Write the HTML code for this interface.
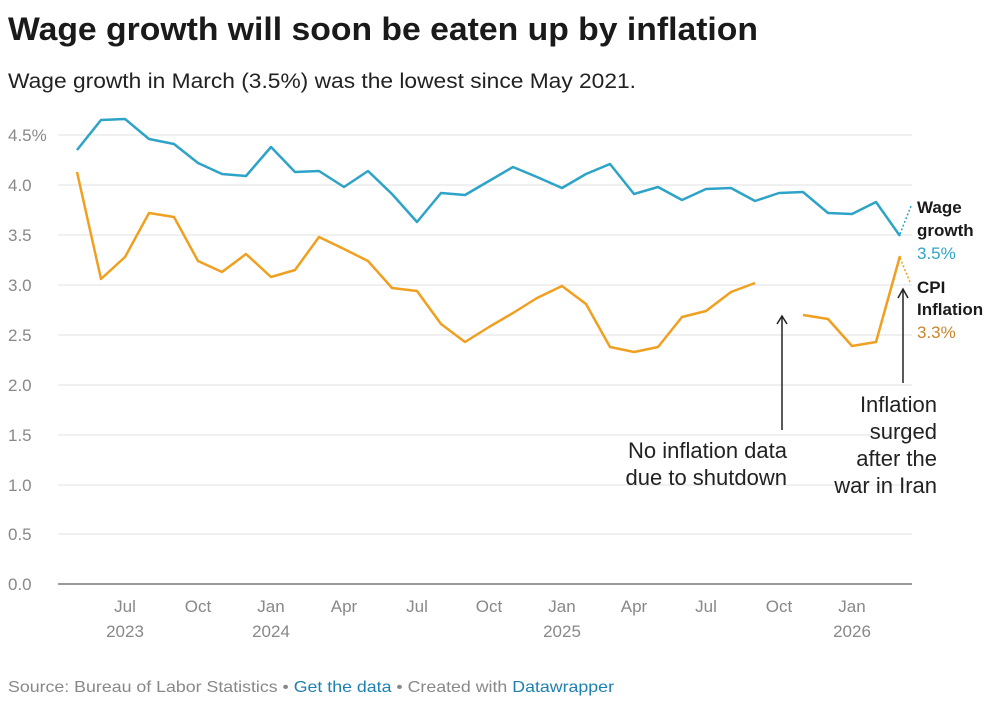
<!DOCTYPE html>
<html><head><meta charset="utf-8"><style>
body{margin:0;background:#fff;width:1000px;height:711px;overflow:hidden;font-family:"Liberation Sans",Arial,sans-serif}
</style></head><body>
<svg width="1000" height="711" viewBox="0 0 1000 711" xmlns="http://www.w3.org/2000/svg" font-family="Liberation Sans, Arial, sans-serif">
<text x="8" y="40" font-size="32" font-weight="bold" fill="#1a1a1a" textLength="750" lengthAdjust="spacingAndGlyphs">Wage growth will soon be eaten up by inflation</text>
<text x="8" y="88" font-size="21" fill="#222" textLength="628" lengthAdjust="spacingAndGlyphs">Wage growth in March (3.5%) was the lowest since May 2021.</text>
<g stroke="#e0e0e0" stroke-width="1">
<line x1="58" x2="912" y1="135" y2="135"/><line x1="58" x2="912" y1="185" y2="185"/><line x1="58" x2="912" y1="235" y2="235"/><line x1="58" x2="912" y1="285" y2="285"/><line x1="58" x2="912" y1="335" y2="335"/><line x1="58" x2="912" y1="385" y2="385"/><line x1="58" x2="912" y1="435" y2="435"/><line x1="58" x2="912" y1="485" y2="485"/><line x1="58" x2="912" y1="534" y2="534"/>
</g>
<line x1="58" x2="912" y1="584" y2="584" stroke="#333" stroke-width="1"/>
<g font-size="17" fill="#888">
<text x="8" y="141">4.5%</text><text x="8" y="191">4.0</text><text x="8" y="241">3.5</text><text x="8" y="291">3.0</text><text x="8" y="341">2.5</text><text x="8" y="391">2.0</text><text x="8" y="441">1.5</text><text x="8" y="491">1.0</text><text x="8" y="540">0.5</text><text x="8" y="590">0.0</text>
</g>
<g font-size="17" fill="#888" text-anchor="middle">
<text x="125" y="612">Jul</text><text x="125" y="637">2023</text>
<text x="198" y="612">Oct</text>
<text x="271" y="612">Jan</text><text x="271" y="637">2024</text>
<text x="344" y="612">Apr</text><text x="417" y="612">Jul</text><text x="489" y="612">Oct</text>
<text x="562" y="612">Jan</text><text x="562" y="637">2025</text>
<text x="634" y="612">Apr</text><text x="706" y="612">Jul</text><text x="779" y="612">Oct</text>
<text x="852" y="612">Jan</text><text x="852" y="637">2026</text>
</g>
<polyline fill="none" stroke="#2ea3c8" stroke-width="2.5" stroke-linejoin="round" points="77,150 101,120 125,119 149,139 174,144 198,163 222,174 246,176 271,147 295,172 319,171 344,187 368,171 392,194 417,222 441,193 465,195 489,181 513,167 537,177 562,188 586,174 610,164 634,194 658,187 682,200 706,189 731,188 755,201 779,193 803,192 828,213 852,214 876,202 900,236"/>
<polyline fill="none" stroke="#f0a020" stroke-width="2.5" stroke-linejoin="round" points="77,172 101,279 125,257 149,213 174,217 198,261 222,272 246,254 271,277 295,270 319,237 344,249 368,261 392,288 417,291 441,324 465,342 489,327 513,313 537,298 562,286 586,304 610,347 634,352 658,347 682,317 706,311 731,292 755,283"/>
<polyline fill="none" stroke="#f0a020" stroke-width="2.5" stroke-linejoin="round" points="803,315 828,319 852,346 876,342 900,256"/>
<line x1="900" y1="234" x2="911" y2="206" stroke="#2ea3c8" stroke-width="1.5" stroke-dasharray="2,2"/>
<line x1="900" y1="258" x2="910" y2="282" stroke="#f0a020" stroke-width="1.5" stroke-dasharray="2,2"/>
<g font-size="17" font-weight="bold" fill="#1a1a1a">
<text x="917" y="213">Wage</text><text x="917" y="236">growth</text>
<text x="917" y="293">CPI</text><text x="917" y="315">Inflation</text>
</g>
<text x="917" y="259" font-size="17" fill="#2ea3c8">3.5%</text>
<text x="917" y="338" font-size="17" fill="#c8862a">3.3%</text>
<g stroke="#222" stroke-width="1.5" fill="none">
<line x1="782" y1="430" x2="782" y2="317"/><polyline points="777,324 782,316 787,324"/>
<line x1="903" y1="383" x2="903" y2="290"/><polyline points="898,298 903,289 908,298"/>
</g>
<g font-size="22" fill="#222" text-anchor="end">
<text x="787" y="458">No inflation data</text><text x="787" y="485">due to shutdown</text>
<text x="937" y="412">Inflation</text><text x="937" y="439">surged</text><text x="937" y="466">after the</text><text x="937" y="493">war in Iran</text>
</g>
<text x="8" y="692" font-size="16" fill="#888" textLength="606" lengthAdjust="spacingAndGlyphs">Source: Bureau of Labor Statistics • <tspan fill="#1d80b0">Get the data</tspan> • Created with <tspan fill="#1d80b0">Datawrapper</tspan></text>
</svg>
</body></html>
